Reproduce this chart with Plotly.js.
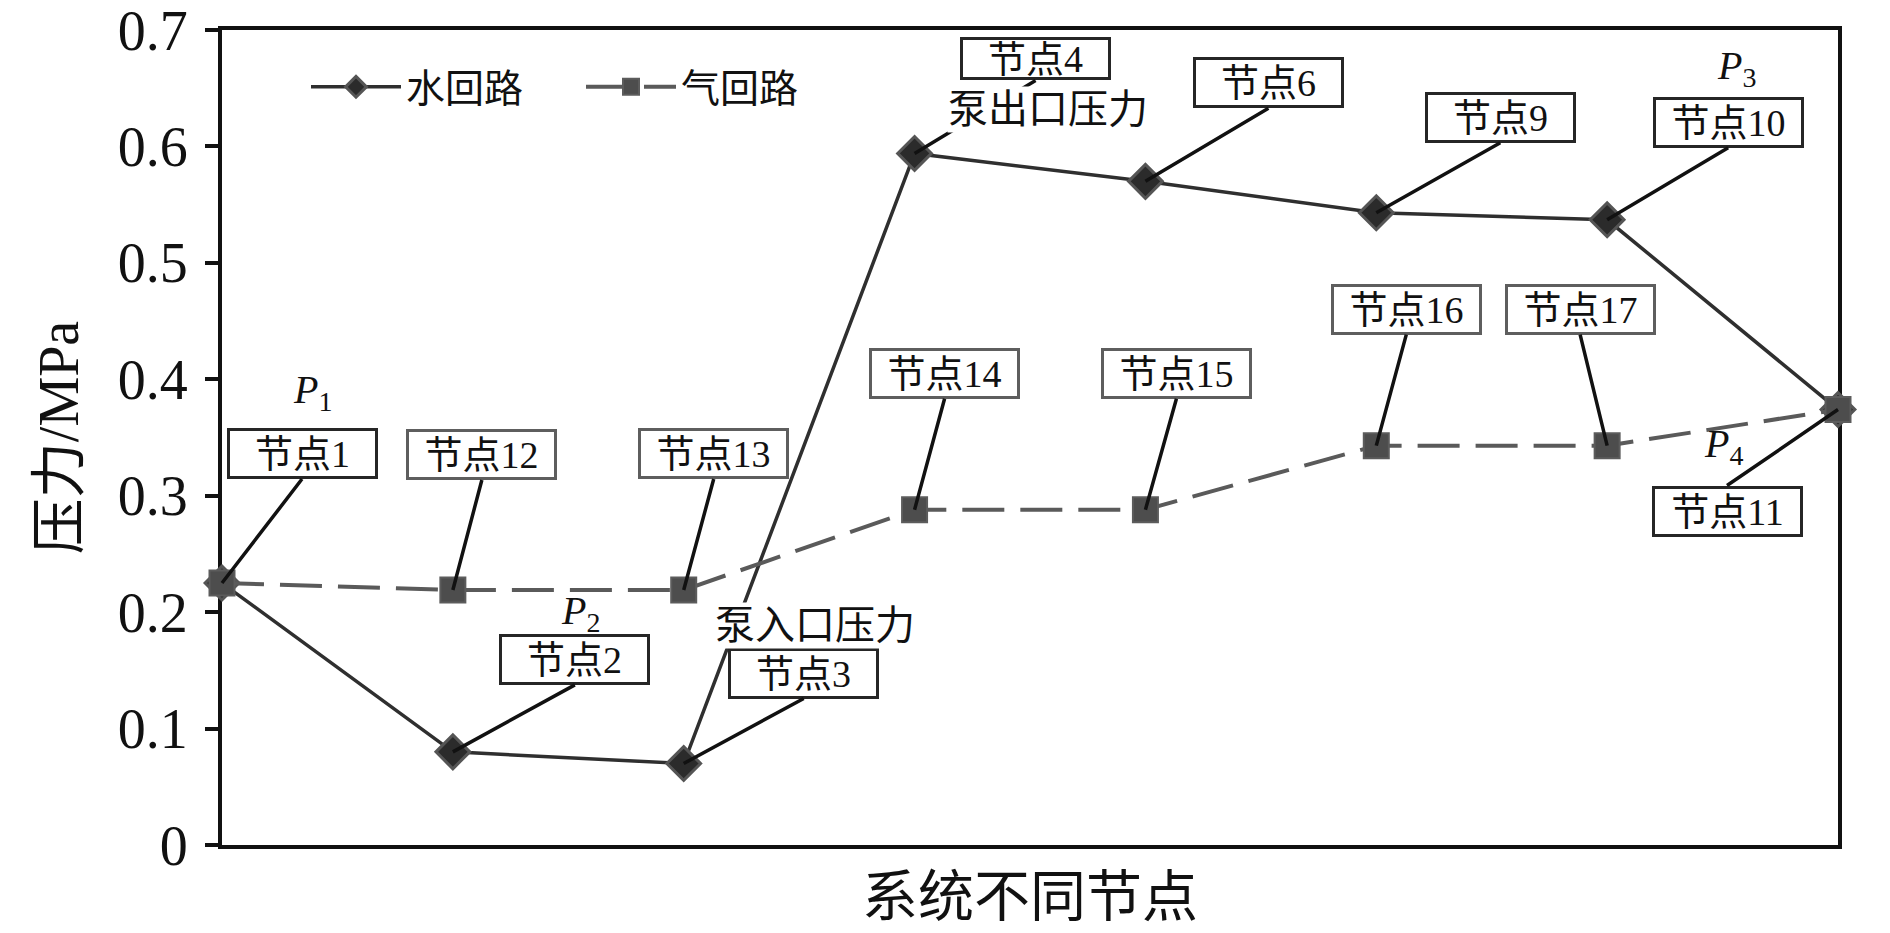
<!DOCTYPE html>
<html>
<head>
<meta charset="utf-8">
<script src="https://cdn.plot.ly/plotly-3.0.1.min.js"></script>
<style>
  html, body { margin: 0; padding: 0; background: #ffffff; }
  #chart { width: 1890px; height: 933px; }
</style>
</head>
<body>
<div id="chart"></div>
<script>
// ---- data ----
const nodeIndex = [0, 1, 2, 3, 4, 5, 6, 7];
const waterPressure = [0.225, 0.080, 0.070, 0.594, 0.570, 0.543, 0.537, 0.374];
const gasPressure   = [0.225, 0.219, 0.219, 0.288, 0.288, 0.343, 0.343, 0.374];
const waterNodeLabels = ['节点1', '节点2', '节点3', '节点4', '节点6', '节点9', '节点10', '节点11'];
const gasNodeLabels   = ['节点1', '节点12', '节点13', '节点14', '节点15', '节点16', '节点17', '节点11'];
const seriesNames = ['水回路', '气回路'];
const yTickValues = [0, 0.1, 0.2, 0.3, 0.4, 0.5, 0.6, 0.7];
const xAxisTitle = '系统不同节点';
const yAxisTitle = '压力/MPa';

// ---- styling / layout helpers ----
const FONT = 'Liberation Serif, "Times New Roman", "Noto Sans CJK SC", serif';
const PLOT = { l: 222, r: 52, t: 30, b: 88, W: 1890, H: 933 };
const plotW = PLOT.W - PLOT.l - PLOT.r;
const plotH = PLOT.H - PLOT.t - PLOT.b;
const px2x = px => (px - PLOT.l) / plotW;
const px2y = py => (PLOT.H - PLOT.b - py) / plotH;

// callout placement (pixel offsets from point to box edge centre)
const waterCallouts = [
  { i: 0, ax: 80,  ay: -104 },
  { i: 1, ax: 122, ay: -67 },
  { i: 2, ax: 120, ay: -65 },
  { i: 3, ax: 121, ay: -73, h: 35 },
  { i: 4, ax: 123, ay: -73 },
  { i: 5, ax: 124, ay: -70 },
  { i: 6, ax: 121, ay: -72 },
  { i: 7, ax: -111, ay: 76, below: true }
];
const gasCallouts = [
  { i: 1, ax: 29,  ay: -110 },
  { i: 2, ax: 30,  ay: -111 },
  { i: 3, ax: 30,  ay: -111 },
  { i: 4, ax: 31,  ay: -111 },
  { i: 5, ax: 30,  ay: -111 },
  { i: 6, ax: -27, ay: -111 }
];

function callout(label, xv, yv, c, border) {
  return {
    x: xv, y: yv, xref: 'x', yref: 'y',
    text: label,
    showarrow: true, arrowhead: 0, arrowwidth: 3.5, arrowcolor: '#111111',
    standoff: 0, startstandoff: 0,
    ax: c.ax, ay: c.ay, axref: 'pixel', ayref: 'pixel',
    xanchor: 'center', yanchor: c.below ? 'top' : 'bottom',
    width: 143, height: c.h || 43, valign: 'middle', align: 'center',
    bgcolor: '#ffffff', bordercolor: border, borderwidth: 3, borderpad: 1,
    font: { family: FONT, size: 38, color: '#111111' }
  };
}

const annotations = [];
waterCallouts.forEach(c => annotations.push(
  callout(waterNodeLabels[c.i], nodeIndex[c.i], waterPressure[c.i], c, '#262626')));
gasCallouts.forEach(c => annotations.push(
  callout(gasNodeLabels[c.i], nodeIndex[c.i], gasPressure[c.i], c, '#5e5e5e')));

function plainText(text, px, py, size) {
  return {
    x: px2x(px), y: px2y(py), xref: 'paper', yref: 'paper',
    text: text, showarrow: false, xanchor: 'center', yanchor: 'middle',
    bgcolor: '#ffffff', borderpad: 0,
    font: { family: FONT, size: size, color: '#111111' }
  };
}
annotations.push(plainText('泵出口压力', 1048, 109, 40));
annotations.push(plainText('泵入口压力', 815, 625, 40));
const pLabels = [
  { t: '<i>P</i><sub>1</sub>', x: 312, y: 392 },
  { t: '<i>P</i><sub>2</sub>', x: 580, y: 613 },
  { t: '<i>P</i><sub>3</sub>', x: 1736, y: 68 },
  { t: '<i>P</i><sub>4</sub>', x: 1723, y: 446 }
];
pLabels.forEach(p => {
  const a = plainText(p.t, p.x, p.y, 40);
  a.bgcolor = 'rgba(0,0,0,0)';
  annotations.push(a);
});

const traces = [
  {
    x: nodeIndex, y: waterPressure, name: seriesNames[0],
    type: 'scatter', mode: 'lines+markers', cliponaxis: false,
    line: { color: '#2f2f2f', width: 3.5 },
    marker: { symbol: 'diamond', size: 26, color: '#2b2b2b', line: { color: '#555555', width: 3 } }
  },
  {
    x: nodeIndex, y: gasPressure, name: seriesNames[1],
    type: 'scatter', mode: 'lines+markers', cliponaxis: false,
    line: { color: '#5a5a5a', width: 4, dash: '42px,16px' },
    marker: { symbol: 'square', size: 25, color: '#4d4d4d', line: { color: '#5c5c5c', width: 2 } }
  }
];

const layout = {
  width: PLOT.W, height: PLOT.H,
  margin: { l: PLOT.l, r: PLOT.r, t: PLOT.t, b: PLOT.b, pad: 0 },
  paper_bgcolor: '#ffffff', plot_bgcolor: '#ffffff',
  showlegend: true,
  legend: {
    orientation: 'h', x: px2x(306), y: px2y(87), xanchor: 'left', yanchor: 'middle',
    font: { family: FONT, size: 39, color: '#111111' },
    bgcolor: 'rgba(0,0,0,0)', itemwidth: 90, traceorder: 'normal',
    entrywidth: 170, entrywidthmode: 'pixels'
  },
  xaxis: {
    range: [0, 7], showticklabels: false, ticks: '', showgrid: false, zeroline: false,
    showline: true, linewidth: 4, linecolor: '#111111', mirror: true, layer: 'below traces',
    title: { text: xAxisTitle, font: { family: FONT, size: 56, color: '#111111' }, standoff: 30 }
  },
  yaxis: {
    range: [0, 0.7], tickvals: yTickValues, ticktext: yTickValues.map(v => String(v)),
    ticks: 'outside', ticklen: 13, tickwidth: 4, tickcolor: '#111111',
    showgrid: false, zeroline: false,
    showline: true, linewidth: 4, linecolor: '#111111', mirror: true, layer: 'below traces',
    tickfont: { family: FONT, size: 56, color: '#111111' }, ticklabelstandoff: 6,
    ticklabeloverflow: 'allow',
    title: { text: yAxisTitle, font: { family: FONT, size: 56, color: '#111111' }, standoff: 22 }
  },
  annotations: annotations
};

Plotly.newPlot('chart', traces, layout, { displayModeBar: false, staticPlot: true });
</script>
</body>
</html>
